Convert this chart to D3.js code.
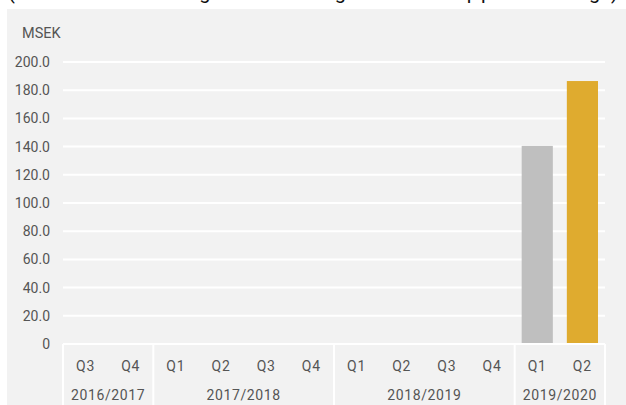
<!DOCTYPE html>
<html>
<head>
<meta charset="utf-8">
<script src="https://cdn.jsdelivr.net/npm/d3@7"></script>
<style>
  html, body { margin: 0; padding: 0; background: #fff; }
  svg { display: block; font-family: Roboto, "Noto Sans", sans-serif; }
</style>
</head>
<body>
<svg id="chart" width="626" height="405"></svg>
<script>
// data
const years = ["2016/2017", "2017/2018", "2018/2019", "2019/2020"];
const quarters = [
  ["Q3", "Q4"],
  ["Q1", "Q2", "Q3", "Q4"],
  ["Q1", "Q2", "Q3", "Q4"],
  ["Q1", "Q2"]
];
const values = [null, null, null, null, null, null, null, null, null, null, 140.5, 186.5];
const barColors = ["#bfbfbf", "#dfab2f"];
const yTicks = [0, 20, 40, 60, 80, 100, 120, 140, 160, 180, 200];
const unitLabel = "MSEK";
const titleText = "(Nettoomsättning i affärssegmentet Support Energi)";

const svg = d3.select("#chart");
const W = 626, H = 405;
const margin = { left: 63, right: 21, top: 62, bottom: 61 };
const plotW = W - margin.left - margin.right;
const plotH = H - margin.top - margin.bottom;

// title, mostly cut off above the panel as in the original
svg.append("text")
  .attr("x", 8).attr("y", -1.5)
  .attr("textLength", 610)
  .attr("lengthAdjust", "spacing")
  .attr("font-size", 20)
  .attr("fill", "#111")
  .text(titleText);

// panel
svg.append("rect")
  .attr("x", 7).attr("y", 9)
  .attr("width", W - 7).attr("height", H - 9)
  .attr("fill", "#f2f2f2");

// flatten categories
const cats = [];
quarters.forEach((qs, gi) => qs.forEach(q => cats.push({ key: years[gi] + " " + q, q: q, g: gi })));
cats.forEach((c, i) => c.value = values[i]);

const x = d3.scaleBand()
  .domain(cats.map(c => c.key))
  .range([0, plotW])
  .paddingInner(0.31)
  .paddingOuter(0.155);

const y = d3.scaleLinear()
  .domain([0, 200])
  .range([plotH, 0]);

const g = svg.append("g")
  .attr("transform", `translate(${margin.left},${margin.top})`);

// gridlines
g.append("g")
  .selectAll("line")
  .data(yTicks.slice(1))
  .join("line")
  .attr("x1", 0).attr("x2", plotW)
  .attr("y1", d => y(d)).attr("y2", d => y(d))
  .attr("stroke", "#fff")
  .attr("stroke-width", 2);

// y axis labels
const yAxis = g.append("g")
  .call(d3.axisLeft(y).tickValues(yTicks).tickSize(0).tickPadding(13)
    .tickFormat(d => d === 0 ? "0" : d3.format(".1f")(d)));
yAxis.select(".domain").remove();
yAxis.selectAll("text")
  .attr("font-family", "Roboto, sans-serif")
  .attr("font-size", 14)
  .attr("fill", "#555");

svg.append("text")
  .attr("x", 22).attr("y", 38)
  .attr("font-size", 14.5)
  .attr("fill", "#555")
  .text(unitLabel);

// bars
let colorIdx = 0;
g.append("g")
  .selectAll("rect")
  .data(cats.filter(c => c.value != null))
  .join("rect")
  .attr("x", d => x(d.key))
  .attr("width", x.bandwidth())
  .attr("y", d => y(d.value))
  .attr("height", d => y(0) - y(d.value) - 1)
  .attr("fill", () => barColors[colorIdx++]);

// category header boxes
const step = x.step();
const x0 = x(cats[0].key) - x.paddingOuter() * step;
const hdr = g.append("g").attr("transform", `translate(0,${plotH})`);

hdr.append("line")
  .attr("x1", x0).attr("x2", plotW)
  .attr("y1", 0).attr("y2", 0)
  .attr("stroke", "#fff").attr("stroke-width", 2);

let start = 0;
const bounds = [0];
quarters.forEach(qs => { start += qs.length; bounds.push(start); });
hdr.selectAll("line.sep")
  .data(bounds)
  .join("line")
  .attr("class", "sep")
  .attr("x1", d => x0 + d * step).attr("x2", d => x0 + d * step)
  .attr("y1", 0).attr("y2", H - margin.top - plotH)
  .attr("stroke", "#fff").attr("stroke-width", 2);

hdr.selectAll("text.q")
  .data(cats)
  .join("text")
  .attr("class", "q")
  .attr("x", d => x(d.key) + x.bandwidth() / 2)
  .attr("y", 27)
  .attr("text-anchor", "middle")
  .attr("font-size", 14)
  .attr("letter-spacing", 0.8)
  .attr("fill", "#555")
  .text(d => d.q);

hdr.selectAll("text.yr")
  .data(years)
  .join("text")
  .attr("class", "yr")
  .attr("x", (d, i) => x0 + (bounds[i] + bounds[i + 1]) / 2 * step)
  .attr("y", 56)
  .attr("text-anchor", "middle")
  .attr("font-size", 14)
  .attr("letter-spacing", 0.6)
  .attr("fill", "#555")
  .text(d => d);
</script>
</body>
</html>
